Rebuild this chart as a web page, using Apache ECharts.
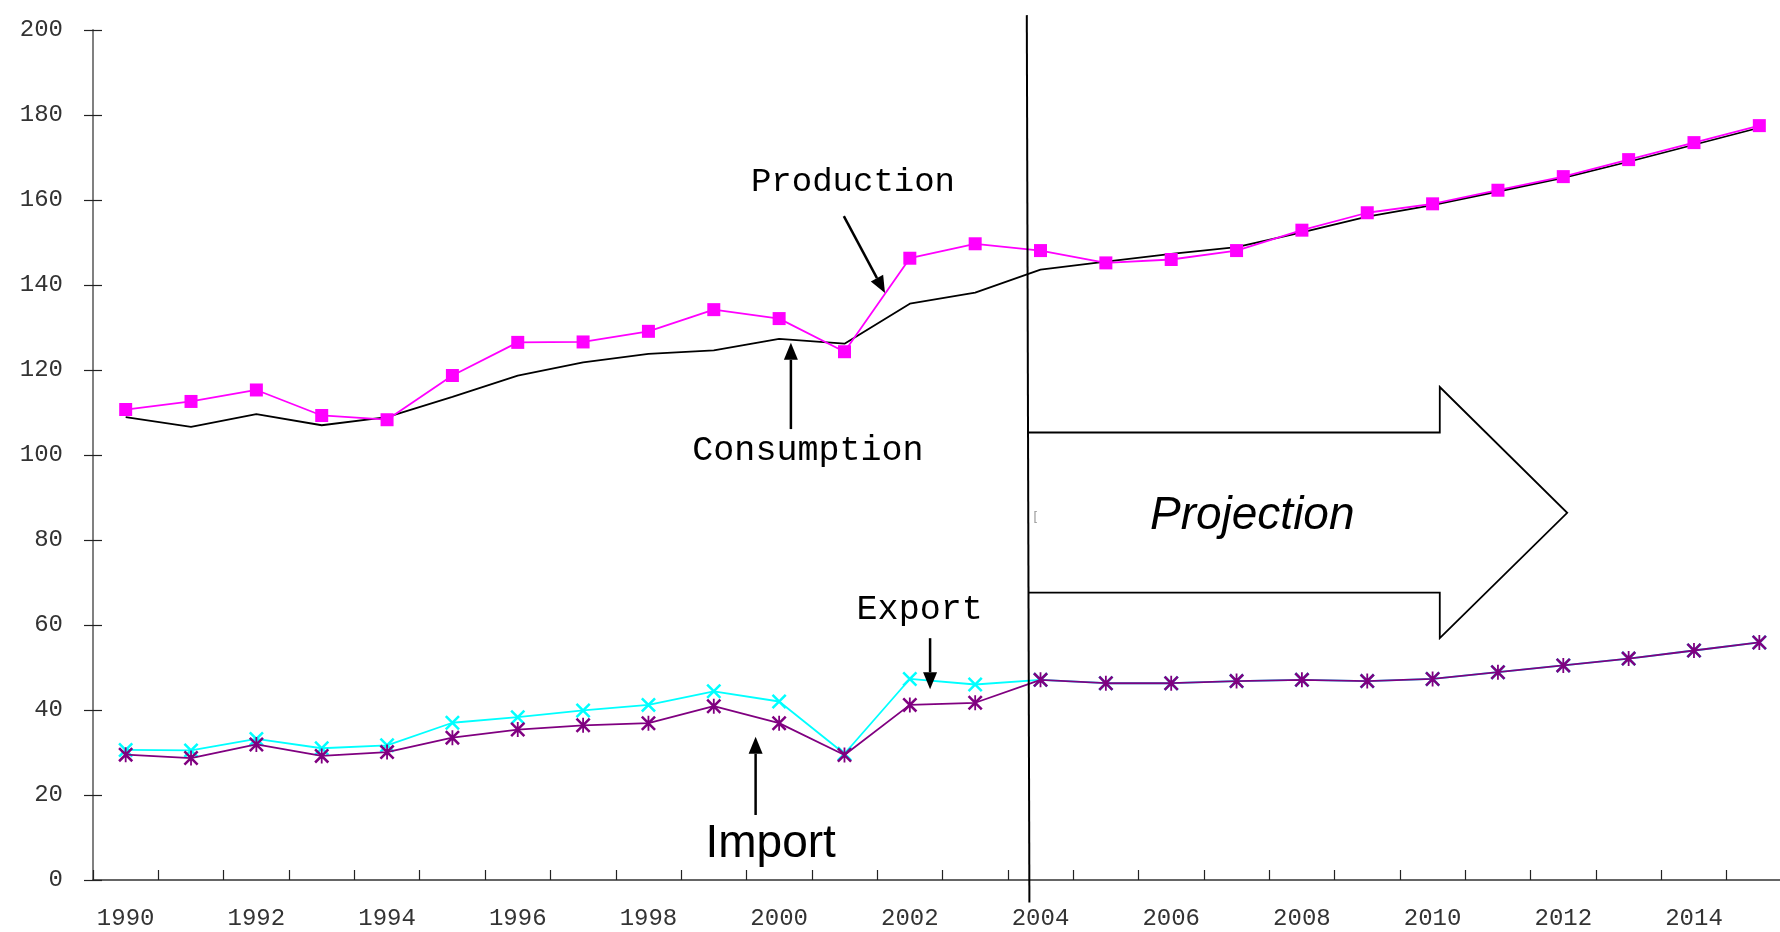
<!DOCTYPE html>
<html>
<head>
<meta charset="utf-8">
<script src="https://cdn.jsdelivr.net/npm/echarts@6/dist/echarts.min.js"></script>
<style>
  html, body { margin: 0; padding: 0; background: #ffffff; overflow: hidden; }
  /* the plot area runs a few pixels past the right edge of the window */
  #chart { width: 1792px; height: 932px; }
</style>
</head>
<body>
<div id="chart"></div>
<script>
// Years on the category axis
const years = ['1990','1991','1992','1993','1994','1995','1996','1997','1998','1999','2000','2001','2002',
               '2003','2004','2005','2006','2007','2008','2009','2010','2011','2012','2013','2014','2015'];

// Series values
const production  = [110.7, 112.6, 115.3, 109.3, 108.3, 118.7, 126.5, 126.6, 129.1, 134.2, 132.1, 124.3, 146.3,
                     149.7, 148.1, 145.2, 146.0, 148.1, 152.9, 157.0, 159.1, 162.3, 165.5, 169.5, 173.5, 177.5];
const consumption = [108.9, 106.6, 109.6, 107.0, 108.9, 113.7, 118.7, 121.8, 123.8, 124.6, 127.3, 126.2, 135.6,
                     138.2, 143.6, 145.5, 147.3, 148.9, 152.4, 156.1, 158.8, 162.0, 165.2, 169.0, 173.0, 177.0];
const exports     = [30.6, 30.5, 33.2, 31.0, 31.7, 37.0, 38.3, 39.9, 41.2, 44.4, 42.0, 29.7, 47.3,
                     46.0, 47.1, 46.3, 46.3, 46.8, 47.1, 46.8, 47.3, 48.9, 50.5, 52.1, 54.0, 55.9];
const imports     = [29.5, 28.7, 31.9, 29.2, 30.1, 33.5, 35.4, 36.4, 36.9, 40.9, 36.9, 29.4, 41.2,
                     41.7, 47.1, 46.3, 46.3, 46.8, 47.1, 46.8, 47.3, 48.9, 50.5, 52.1, 54.0, 55.9];

// Value-axis ticks
const yTicks = [0, 20, 40, 60, 80, 100, 120, 140, 160, 180, 200];

// Marker shapes drawn as thin filled strokes
const crossSymbol = 'path://M0,1.2 L1.2,0 L10,8.8 L8.8,10 Z M8.8,0 L10,1.2 L1.2,10 L0,8.8 Z';
const starSymbol  = 'path://M0,1.2 L1.2,0 L10,8.8 L8.8,10 Z M8.8,0 L10,1.2 L1.2,10 L0,8.8 Z M4.4,0 L5.6,0 L5.6,10 L4.4,10 Z';

const axisFont = 'Liberation Mono, Courier New, monospace';
const noteFont = 'Liberation Mono, Courier New, monospace';

const chart = echarts.init(document.getElementById('chart'), null, { renderer: 'canvas' });

const yMin = yTicks[0], yMax = yTicks[yTicks.length - 1], yStep = yTicks[1] - yTicks[0];

chart.setOption({
  animation: false,
  backgroundColor: '#ffffff',
  grid: { left: 93, right: 0, top: 30, bottom: 52, containLabel: false },
  xAxis: {
    type: 'category',
    data: years,
    boundaryGap: true,
    axisLine: { show: true, lineStyle: { color: '#333', width: 1.5 } },
    axisTick: { show: true, inside: true, length: 10, interval: 0, lineStyle: { color: '#222', width: 1.2 } },
    axisLabel: { interval: 1, margin: 27, fontFamily: axisFont, fontSize: 24, color: '#333' },
    splitLine: { show: false }
  },
  yAxis: [
    {
      type: 'value', min: yMin, max: yMax, interval: yStep, position: 'left',
      axisLine: { show: true, lineStyle: { color: '#808080', width: 2 } },
      axisTick: { show: true, inside: false, length: 9, lineStyle: { color: '#222', width: 1.2 } },
      axisLabel: { margin: 30, fontFamily: axisFont, fontSize: 24, color: '#333', padding: [0, 0, 10, 0] },
      splitLine: { show: false }
    },
    {
      // second copy of the value axis supplies the inward half of each tick
      type: 'value', min: yMin, max: yMax, interval: yStep, position: 'left', offset: 0,
      axisLine: { show: false },
      axisTick: { show: true, inside: true, length: 9, lineStyle: { color: '#222', width: 1.2 } },
      axisLabel: { show: false },
      splitLine: { show: false }
    }
  ],
  series: [
    {
      name: 'Consumption', type: 'line', data: consumption, showSymbol: false, symbol: 'none',
      lineStyle: { color: '#000000', width: 1.8 }, z: 2
    },
    {
      name: 'Production', type: 'line', data: production, symbol: 'rect', symbolSize: 13,
      itemStyle: { color: '#ff00ff' }, lineStyle: { color: '#ff00ff', width: 1.8 }, z: 3
    },
    {
      name: 'Export', type: 'line', data: exports, symbol: crossSymbol, symbolSize: 15,
      itemStyle: { color: '#00ffff' }, lineStyle: { color: '#00ffff', width: 1.8 }, z: 3
    },
    {
      name: 'Import', type: 'line', data: imports, symbol: starSymbol, symbolSize: 15,
      itemStyle: { color: '#800080' }, lineStyle: { color: '#800080', width: 1.8 }, z: 4
    }
  ]
});

// Annotations placed in data units: fractional category index and value
const p0 = chart.convertToPixel({ xAxisIndex: 0 }, years[0]);
const p1 = chart.convertToPixel({ xAxisIndex: 0 }, years[1]);
const step = p1 - p0;
function px(cat, val) {
  return [p0 + cat * step, chart.convertToPixel({ yAxisIndex: 0 }, val)];
}

function arrow(tail, tip) {
  const a = px(tail[0], tail[1]);
  const b = px(tip[0], tip[1]);
  const dx = b[0] - a[0], dy = b[1] - a[1];
  const len = Math.sqrt(dx * dx + dy * dy);
  const ux = dx / len, uy = dy / len;
  const headLen = 17, headHalf = 7;
  const base = [b[0] - ux * headLen, b[1] - uy * headLen];
  return [
    { type: 'line', shape: { x1: a[0], y1: a[1], x2: base[0], y2: base[1] },
      style: { stroke: '#000', lineWidth: 2.5 }, z: 10 },
    { type: 'polygon', shape: { points: [
        b,
        [base[0] - uy * headHalf, base[1] + ux * headHalf],
        [base[0] + uy * headHalf, base[1] - ux * headHalf]
      ] }, style: { fill: '#000' }, z: 10 }
  ];
}

function label(text, at, font, size, style) {
  const p = px(at[0], at[1]);
  return {
    type: 'text', x: p[0], y: p[1], z: 10,
    style: Object.assign({ text: text, fontFamily: font, fontSize: size, fill: '#000',
                           align: 'center', verticalAlign: 'middle' }, style || {})
  };
}

const divTop = px(13.79, 203.5), divBot = px(13.83, -5.3);
const divX = function (val) {
  const t = (val - 203.5) / (-5.3 - 203.5);
  return divTop[0] + t * (divBot[0] - divTop[0]);
};

const shaftTop = 105.3, shaftBottom = 67.6, headTop = 116.0, headBottom = 56.9;
const shaftEnd = 20.11, tip = px(22.06, 86.4);
const arrowPts = [
  [divX(shaftTop), px(0, shaftTop)[1]],
  [px(shaftEnd, 0)[0], px(0, shaftTop)[1]],
  [px(shaftEnd, 0)[0], px(0, headTop)[1]],
  tip,
  [px(shaftEnd, 0)[0], px(0, headBottom)[1]],
  [px(shaftEnd, 0)[0], px(0, shaftBottom)[1]],
  [divX(shaftBottom), px(0, shaftBottom)[1]]
];

const graphics = [
  { type: 'line', shape: { x1: divTop[0], y1: divTop[1], x2: divBot[0], y2: divBot[1] },
    style: { stroke: '#000', lineWidth: 2 }, z: 9 },
  { type: 'polyline', shape: { points: arrowPts }, style: { stroke: '#000', lineWidth: 1.8, fill: null }, z: 9 },
  label('Projection', [17.24, 85.5], 'Liberation Sans, Arial, sans-serif', 46, { fontStyle: 'italic' }),
  label('[', [13.92, 85.6], 'Liberation Sans, Arial, sans-serif', 13, { fill: '#999' }),
  label('Production', [11.13, 164.2], noteFont, 34),
  label('Consumption', [10.44, 100.9], noteFont, 35),
  label('Export', [12.15, 63.5], noteFont, 35),
  label('Import', [9.87, 8.5], 'Liberation Sans, Arial, sans-serif', 46)
].concat(
  arrow([10.99, 156.2], [11.62, 138.1]),
  arrow([10.18, 106.1], [10.18, 126.4]),
  arrow([12.31, 56.9], [12.31, 44.9]),
  arrow([9.64, 15.3], [9.64, 33.7])
);

chart.setOption({ graphic: graphics });
</script>
</body>
</html>
